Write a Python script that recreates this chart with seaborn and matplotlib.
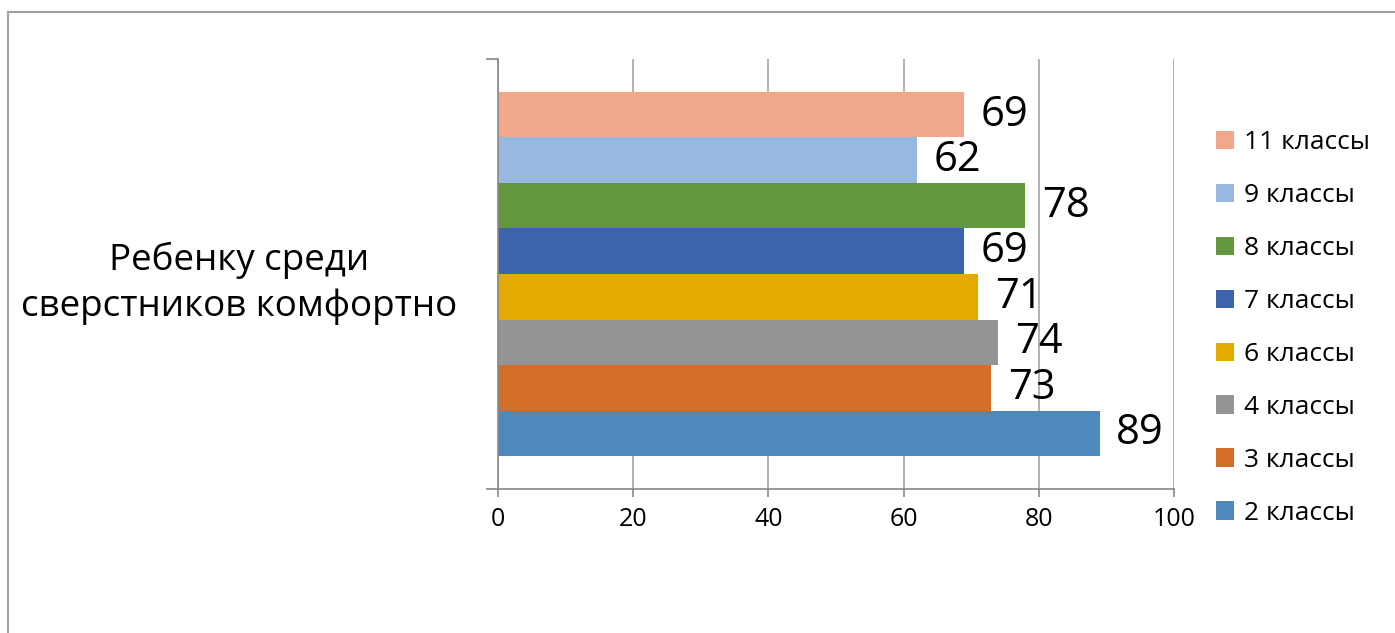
import pandas as pd
import matplotlib
matplotlib.use('Agg')
import matplotlib.pyplot as plt
import seaborn as sns
from matplotlib.patches import Rectangle

# Данные с картинки: одна категория, восемь групп классов (сверху вниз).
question = 'Ребенку среди\nсверстников комфортно'
classes = ['11 классы', '9 классы', '8 классы', '7 классы',
           '6 классы', '4 классы', '3 классы', '2 классы']
values = [69, 62, 78, 69, 71, 74, 73, 89]
colors = ['#F1A88A', '#97B9E0', '#62993E', '#3C63AC',
          '#E3AA00', '#949494', '#D26D2A', '#4E89BD']
x_ticks = [0, 20, 40, 60, 80, 100]

df = pd.DataFrame({'question': [question] * len(classes),
                   'klass': classes,
                   'value': values})

sns.set_style('white')
plt.rcParams['font.family'] = ['Open Sans', 'DejaVu Sans']
plt.rcParams['text.color'] = 'black'
plt.rcParams['xtick.labelcolor'] = 'black'
plt.rcParams['ytick.labelcolor'] = 'black'

axis_grey = '#888888'
grid_grey = '#a6a6a6'

fig = plt.figure(figsize=(13.95, 6.33), dpi=100)
ax = fig.add_axes([498 / 1395, 1 - 489 / 633, (1174 - 498) / 1395, (489 - 59) / 633])

sns.barplot(data=df, x='value', y='question', hue='klass', hue_order=classes,
            palette=colors, orient='h', width=0.847, saturation=1,
            linewidth=0, ax=ax)

# подписи значений справа от столбиков
for cont in ax.containers:
    ax.bar_label(cont, padding=12, fontsize=30, color='black')

ax.set_xlim(0, 100)
ax.set_ylim(0.5, -0.5)
ax.set_xticks(x_ticks)
ax.set_xlabel('')
ax.set_ylabel('')

ax.set_axisbelow(True)
ax.xaxis.grid(True, color=grid_grey, lw=1.2)
ax.yaxis.grid(False)

for side in ['top', 'right']:
    ax.spines[side].set_visible(False)
for side in ['left', 'bottom']:
    ax.spines[side].set_color(axis_grey)
    ax.spines[side].set_linewidth(1.2)

ax.tick_params(axis='x', length=6, width=1.2, color=axis_grey, labelsize=18, pad=7,
               direction='out', bottom=True)
ax.set_yticks([-0.5, 0.5], minor=True)
ax.tick_params(axis='y', which='minor', length=9, width=1.2, color=axis_grey,
               direction='out', left=True)
ax.tick_params(axis='y', which='major', length=0, pad=29, labelsize=26.5)
for lab in ax.get_yticklabels():
    lab.set_multialignment('center')
    lab.set_linespacing(1.35)

# легенда справа
handles, labels = ax.get_legend_handles_labels()
ax.legend(handles, labels, loc='center left',
          bbox_to_anchor=(1216 / 1395, 1 - 328 / 633),
          bbox_transform=fig.transFigure, frameon=False, fontsize=19,
          handlelength=0.7, handleheight=0.7, handletextpad=0.35,
          labelspacing=1.06, borderpad=0, borderaxespad=0)

# рамка области диаграммы (обрезана справа и снизу)
fig.patches.append(Rectangle((8 / 1395, -0.1), 2, 1 - 12 / 633 + 0.1,
                             transform=fig.transFigure, fill=False,
                             edgecolor='#a0a0a0', lw=1.5))

fig.savefig('out.png', dpi=100)
